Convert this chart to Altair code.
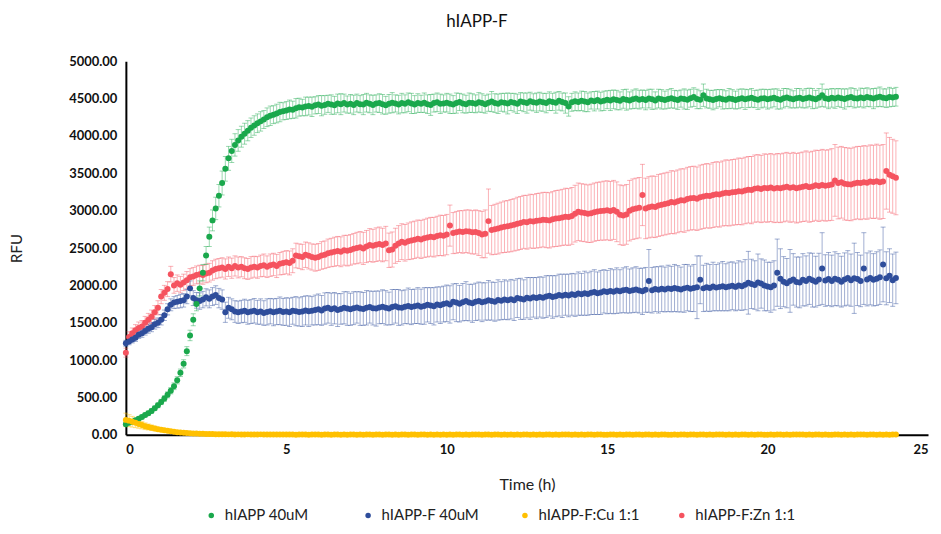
import altair as alt
import pandas as pd

# ---------------- data ----------------
SERIES = ["hIAPP 40uM", "hIAPP-F 40uM", "hIAPP-F:Cu 1:1", "hIAPP-F:Zn 1:1"]
COLORS = ["#1aa84c", "#2e4d9b", "#ffc000", "#f5535f"]
TIME_STEP_H = 0.1
X_TICKS = [0, 5, 10, 15, 20, 25]
Y_TICKS = [0, 500, 1000, 1500, 2000, 2500, 3000, 3500, 4000, 4500, 5000]

green = [
    140, 160, 175, 195, 215, 240, 265, 290, 320, 355,
    395, 440, 485, 535, 590, 650, 730, 830, 950, 1120,
    1330, 1540, 1750, 1960, 2170, 2400, 2650, 2870, 3030, 3200,
    3370, 3560, 3700, 3800, 3880, 3940, 3990, 4030, 4070, 4110,
    4140, 4170, 4195, 4220, 4250, 4270, 4285, 4300, 4320, 4330,
    4340, 4355, 4350, 4370, 4385, 4380, 4395, 4400, 4390, 4410,
    4420, 4405, 4415, 4430, 4420, 4410, 4435, 4425, 4440, 4420,
    4430, 4415, 4440, 4425, 4420, 4445, 4430, 4415, 4435, 4440,
    4425, 4410, 4430, 4445, 4435, 4420, 4440, 4430, 4450, 4435,
    4420, 4440, 4430, 4445, 4425, 4415, 4440, 4450, 4430, 4435,
    4445, 4430, 4420, 4440, 4455, 4435, 4425, 4445, 4440, 4430,
    4450, 4440, 4425, 4445, 4460, 4440, 4430, 4450, 4445, 4435,
    4455, 4445, 4430, 4460, 4450, 4440, 4465, 4450, 4445, 4460,
    4450, 4440, 4465, 4455, 4445, 4470, 4455, 4440, 4395, 4450,
    4465, 4455, 4470, 4460, 4450, 4475, 4465, 4480, 4460, 4470,
    4485, 4475, 4490, 4480, 4470, 4495, 4485, 4475, 4490, 4500,
    4485, 4495, 4480, 4500, 4490, 4475, 4500, 4490, 4480, 4495,
    4505, 4490, 4480, 4500, 4495, 4485, 4505, 4520, 4495, 4485,
    4545, 4500, 4490, 4480, 4495, 4505, 4490, 4485, 4500, 4495,
    4480, 4495, 4505, 4490, 4500, 4510, 4495, 4485, 4500, 4505,
    4490, 4500, 4510, 4495, 4485, 4505, 4515, 4500, 4490, 4505,
    4510, 4495, 4505, 4515, 4500, 4490, 4510, 4545, 4505, 4495,
    4510, 4500, 4515, 4505, 4495, 4510, 4520, 4505, 4500, 4515,
    4505, 4520, 4510, 4500, 4515, 4525, 4510, 4505, 4520, 4515,
    4525,
]
green_err = [
    20, 20, 22, 22, 25, 25, 25, 28, 30, 30,
    32, 35, 38, 40, 42, 45, 48, 50, 55, 60,
    70, 80, 90, 100, 110, 120, 130, 140, 150, 150,
    160, 165, 160, 155, 150, 145, 140, 140, 135, 130,
    130, 125, 130, 120, 125, 130, 120, 125, 130, 115,
    120, 125, 115, 130, 120, 110, 125, 120, 130, 115,
    120, 135, 125, 115, 130, 120, 125, 140, 120, 115,
    125, 130, 120, 115, 135, 125, 120, 130, 115, 125,
    130, 120, 125, 135, 115, 125, 130, 120, 125, 135,
    120, 125, 115, 130, 125, 140, 120, 125, 130, 115,
    125, 130, 120, 135, 115, 125, 120, 130, 125, 120,
    130, 125, 120, 115, 135, 125, 130, 120, 125, 140,
    115, 125, 130, 120, 125, 135, 120, 115, 130, 125,
    120, 130, 125, 115, 140, 125, 120, 135, 130, 120,
    125, 120, 130, 135, 125, 115, 130, 120, 125, 130,
    120, 135, 125, 130, 120, 125, 140, 115, 125, 130,
    125, 120, 130, 125, 135, 115, 125, 130, 120, 125,
    130, 120, 125, 115, 135, 130, 120, 125, 130, 120,
    150, 125, 120, 130, 125, 115, 130, 120, 135, 125,
    120, 130, 125, 135, 120, 125, 115, 130, 125, 120,
    130, 125, 120, 135, 125, 130, 120, 125, 115, 130,
    125, 120, 130, 125, 135, 120, 125, 150, 120, 130,
    125, 130, 120, 125, 135, 120, 125, 130, 115, 125,
    130, 125, 120, 135, 125, 130, 120, 125, 130, 120,
    125,
]
blue = [
    1225, 1250, 1275, 1300, 1340, 1360, 1390, 1420, 1440, 1480,
    1500, 1540, 1600, 1680, 1740, 1770, 1780, 1790, 1800, 1850,
    1960, 1830, 1800, 1790, 1810, 1840, 1820, 1850, 1870, 1830,
    1810, 1640, 1700, 1680, 1650, 1640, 1650, 1660, 1640, 1650,
    1660, 1640, 1650, 1630, 1645, 1655, 1640, 1650, 1660, 1645,
    1650, 1640, 1660, 1655, 1645, 1650, 1665, 1655, 1660, 1670,
    1680, 1665, 1690, 1700, 1680, 1695, 1670, 1685, 1700, 1690,
    1680, 1695, 1705, 1690, 1685, 1700, 1710, 1695, 1690, 1705,
    1715, 1700, 1690, 1710, 1720, 1705, 1700, 1715, 1725, 1710,
    1720, 1730, 1715, 1725, 1740, 1730, 1720, 1745, 1735, 1750,
    1760, 1745, 1780, 1770, 1755, 1775, 1790, 1770, 1760, 1780,
    1790, 1775, 1785, 1800, 1790, 1780, 1805, 1795, 1810, 1800,
    1815, 1800, 1830, 1820, 1810, 1835, 1825, 1840, 1830, 1845,
    1835, 1850, 1860, 1845, 1855, 1870, 1860, 1875, 1865, 1880,
    1870, 1890, 1880, 1895, 1885, 1900, 1910, 1895, 1905, 1920,
    1910, 1925, 1915, 1930, 1920, 1935, 1940, 1925, 1935, 1945,
    1930, 1920, 1940, 2060, 1935, 1950, 1940, 1955, 1945, 1960,
    1950, 1965, 1955, 1945, 1960, 1970, 1955, 1965, 1975, 2075,
    1960, 1975, 1965, 1985, 1970, 1980, 1990, 1975, 1985, 1995,
    1980, 2000, 1990, 2010, 2035, 2020, 2005, 2040, 2025, 2000,
    1985, 1975, 2000, 2170, 2090, 2050, 2030, 2060, 2080, 2045,
    2040, 2075, 2060, 2090, 2070, 2050, 2080, 2225, 2065, 2085,
    2060, 2090, 2075, 2050, 2080, 2100, 2070, 2095, 2085, 2060,
    2225, 2080, 2100, 2075, 2090, 2110, 2280, 2095, 2130, 2070,
    2100,
]
blue_err = [
    40, 45, 45, 50, 50, 55, 55, 60, 60, 65,
    65, 70, 70, 75, 80, 80, 85, 90, 90, 95,
    100, 100, 105, 110, 110, 115, 120, 120, 125, 130,
    130, 135, 140, 140, 145, 150, 150, 155, 160, 160,
    165, 160, 170, 165, 175, 170, 180, 175, 185, 180,
    185, 190, 180, 195, 190, 200, 195, 205, 190, 200,
    205, 200, 210, 205, 215, 210, 220, 205, 215, 225,
    215, 220, 210, 225, 220, 230, 215, 225, 235, 220,
    225, 230, 220, 235, 225, 240, 230, 225, 240, 235,
    230, 240, 235, 245, 230, 240, 250, 235, 245, 240,
    245, 250, 240, 255, 245, 250, 260, 245, 255, 250,
    255, 260, 250, 265, 255, 260, 270, 255, 265, 260,
    265, 270, 260, 275, 265, 270, 280, 265, 275, 270,
    275, 280, 270, 285, 275, 280, 290, 275, 285, 280,
    285, 290, 280, 295, 285, 290, 300, 285, 295, 290,
    290, 300, 295, 305, 290, 300, 310, 295, 300, 305,
    300, 310, 300, 420, 305, 300, 310, 305, 300, 310,
    305, 315, 310, 300, 320, 310, 305, 315, 420, 320,
    310, 320, 315, 325, 310, 320, 330, 315, 325, 320,
    320, 330, 325, 335, 420, 330, 325, 380, 330, 340,
    325, 335, 330, 450, 400, 335, 330, 420, 345, 335,
    340, 350, 335, 345, 360, 340, 350, 480, 345, 355,
    345, 360, 350, 340, 355, 365, 350, 470, 355, 345,
    480, 355, 360, 350, 360, 365, 500, 355, 360, 350,
    345,
]
yellow = [
    200, 190, 175, 160, 145, 130, 115, 105, 95, 85,
    75, 67, 60, 53, 47, 41, 36, 32, 28, 25,
    22, 19, 17, 15, 13, 12, 11, 10, 9, 8,
    8, 7, 6, 7, 5, 6, 5, 4, 6, 5,
    5, 4, 6, 3, 5, 4, 3, 5, 4, 3,
    4, 3, 5, 2, 4, 3, 4, 2, 3, 4,
    3, 2, 4, 3, 2, 3, 4, 2, 3, 2,
    3, 4, 2, 3, 2, 4, 3, 2, 3, 4,
    2, 3, 4, 2, 3, 2, 3, 4, 2, 3,
    3, 2, 3, 4, 2, 3, 2, 3, 2, 4,
    2, 3, 2, 4, 3, 2, 3, 2, 4, 3,
    3, 2, 4, 3, 2, 3, 4, 2, 3, 2,
    4, 2, 3, 2, 3, 4, 2, 3, 2, 3,
    2, 3, 4, 2, 3, 2, 3, 4, 3, 2,
    3, 2, 3, 2, 4, 3, 2, 3, 4, 2,
    2, 4, 3, 2, 3, 2, 4, 3, 2, 3,
    3, 2, 4, 3, 2, 3, 2, 3, 4, 2,
    2, 3, 2, 4, 3, 2, 3, 4, 2, 3,
    4, 2, 3, 2, 3, 4, 3, 2, 3, 2,
    3, 2, 4, 3, 2, 3, 2, 4, 3, 2,
    2, 3, 2, 3, 4, 2, 3, 2, 3, 4,
    3, 4, 2, 3, 2, 3, 4, 2, 3, 2,
    2, 3, 4, 2, 3, 2, 3, 2, 4, 3,
    3, 2, 3, 4, 2, 3, 2, 3, 2, 4,
    3,
]
yellow_err = [
    90, 80, 72, 64, 57, 50, 45, 40, 36, 32,
    28, 25, 22, 20, 18, 16, 14, 13, 12, 11,
    10, 9, 9, 8, 8, 7, 7, 7, 6, 6,
    6, 5, 6, 5, 5, 6, 5, 5, 6, 5,
    5, 6, 5, 5, 6, 5, 5, 6, 5, 5,
    6, 5, 5, 6, 5, 5, 6, 5, 5, 6,
    5, 5, 6, 5, 5, 6, 5, 5, 6, 5,
    5, 6, 5, 5, 6, 5, 5, 6, 5, 5,
    6, 5, 5, 6, 5, 5, 6, 5, 5, 6,
    5, 5, 6, 5, 5, 6, 5, 5, 6, 5,
    5, 6, 5, 5, 6, 5, 5, 6, 5, 5,
    6, 5, 5, 6, 5, 5, 6, 5, 5, 6,
    5, 5, 6, 5, 5, 6, 5, 5, 6, 5,
    5, 6, 5, 5, 6, 5, 5, 6, 5, 5,
    6, 5, 5, 6, 5, 5, 6, 5, 5, 6,
    5, 5, 6, 5, 5, 6, 5, 5, 6, 5,
    5, 6, 5, 5, 6, 5, 5, 6, 5, 5,
    6, 5, 5, 6, 5, 5, 6, 5, 5, 6,
    5, 5, 6, 5, 5, 6, 5, 5, 6, 5,
    5, 6, 5, 5, 6, 5, 5, 6, 5, 5,
    6, 5, 5, 6, 5, 5, 6, 5, 5, 6,
    5, 5, 6, 5, 5, 6, 5, 5, 6, 5,
    5, 6, 5, 5, 6, 5, 5, 6, 5, 5,
    6, 5, 5, 6, 5, 5, 6, 5, 5, 6,
    5,
]
red = [
    1100, 1310, 1360, 1400, 1430, 1450, 1500, 1540, 1580, 1640,
    1700, 1850, 1900, 1950, 2150, 2000, 2030, 2010, 2040, 2070,
    2110, 2120, 2140, 2150, 2140, 2160, 2170, 2200, 2220, 2230,
    2240, 2220, 2250, 2230, 2260, 2240, 2250, 2230, 2220, 2240,
    2250, 2240, 2260, 2270, 2250, 2270, 2280, 2260, 2290, 2300,
    2310, 2300, 2330, 2400, 2390, 2380, 2410, 2395, 2380, 2370,
    2380, 2400, 2410, 2430, 2440, 2450, 2460, 2450, 2470, 2465,
    2475, 2490, 2500, 2510, 2495, 2520, 2540, 2530, 2545, 2555,
    2540, 2560, 2470, 2480, 2530, 2560, 2585, 2570, 2590, 2600,
    2610, 2625, 2615, 2630, 2640, 2650, 2645, 2660, 2670, 2665,
    2680, 2800, 2700, 2710, 2720, 2715, 2725, 2720, 2710, 2715,
    2700, 2680, 2690, 2860, 2740, 2750, 2760, 2775, 2785, 2790,
    2800, 2810, 2825, 2835, 2850, 2845, 2860, 2855, 2865, 2870,
    2880, 2875, 2870, 2885, 2895, 2900, 2910, 2920, 2915, 2930,
    2960, 2985, 2975, 2970, 2960, 2965, 2980, 2990, 2995, 3000,
    3005, 2995, 3010, 2985, 2945, 2935, 2950, 3000, 3020, 3030,
    3040, 3210, 3030, 3045, 3055, 3050, 3070, 3080, 3090, 3100,
    3115, 3110, 3125, 3140, 3135, 3155, 3165, 3170, 3160, 3180,
    3190, 3200, 3195, 3210, 3220, 3215, 3230, 3240, 3235, 3245,
    3250, 3260, 3255, 3270, 3280, 3275, 3295, 3300, 3290, 3305,
    3300, 3310, 3295, 3305, 3300, 3310, 3320, 3305, 3315, 3300,
    3310, 3320, 3330, 3315, 3325, 3340, 3330, 3345, 3335, 3340,
    3350, 3405, 3370, 3380, 3360, 3355, 3350, 3365, 3375, 3370,
    3380, 3375, 3390, 3385, 3395, 3380, 3390, 3530, 3480, 3460,
    3440,
]
red_err = [
    60, 70, 70, 75, 80, 80, 85, 85, 90, 90,
    95, 95, 100, 100, 105, 105, 110, 110, 110, 115,
    115, 120, 120, 120, 125, 125, 125, 130, 130, 130,
    130, 135, 130, 135, 135, 140, 135, 140, 140, 145,
    140, 145, 145, 150, 145, 150, 150, 155, 150, 155,
    155, 160, 160, 165, 165, 170, 170, 175, 175, 180,
    180, 185, 185, 190, 190, 195, 195, 200, 200, 205,
    205, 205, 210, 210, 215, 215, 220, 220, 225, 225,
    225, 230, 230, 235, 235, 240, 240, 245, 245, 250,
    250, 250, 255, 255, 260, 260, 265, 265, 270, 270,
    270, 275, 275, 280, 280, 285, 285, 290, 290, 295,
    300, 310, 320, 430, 330, 335, 340, 340, 345, 345,
    350, 350, 355, 355, 355, 360, 360, 360, 365, 365,
    365, 370, 370, 370, 375, 375, 375, 380, 380, 380,
    380, 385, 385, 385, 385, 390, 390, 390, 390, 395,
    395, 395, 395, 400, 400, 400, 400, 405, 405, 405,
    405, 410, 405, 410, 410, 410, 415, 415, 415, 415,
    420, 420, 420, 420, 425, 425, 425, 425, 425, 430,
    430, 430, 430, 435, 435, 435, 435, 440, 440, 440,
    440, 445, 445, 445, 445, 450, 450, 450, 450, 455,
    455, 455, 455, 460, 460, 460, 460, 460, 465, 465,
    465, 465, 470, 470, 470, 470, 475, 475, 475, 475,
    480, 480, 480, 480, 485, 485, 485, 485, 485, 490,
    490, 490, 490, 490, 495, 495, 495, 510, 500, 495,
    495,
]

# ---------------- tables ----------------
values = {SERIES[0]: (green, green_err), SERIES[1]: (blue, blue_err),
          SERIES[2]: (yellow, yellow_err), SERIES[3]: (red, red_err)}
draw_order = [SERIES[3], SERIES[1], SERIES[0], SERIES[2]]

rows, caps = [], []
for s in draw_order:
    v, e = values[s]
    for i, (val, err) in enumerate(zip(v, e)):
        t = round(i * TIME_STEP_H, 2)
        rows.append({"t": t, "rfu": val, "lo": val - err, "hi": val + err,
                     "series": s, "series_e": s})
        caps.append({"t": t, "cap": val - err, "series_e": s})
        caps.append({"t": t, "cap": val + err, "series_e": s})
df = pd.DataFrame(rows)
df_caps = pd.DataFrame(caps)

FONT = "Lato"
xscale = alt.Scale(domain=[0, 25], nice=False)
yscale = alt.Scale(domain=[0, 5000], nice=False)
ecolor = alt.Scale(domain=SERIES, range=COLORS)

x_axis = alt.Axis(values=X_TICKS, title="Time (h)", format="d", grid=False,
                  ticks=False, domainColor="#000000", domainWidth=2,
                  labelOverlap=False,
                  labelFont=FONT, labelFontWeight="bold", labelFontSize=13,
                  labelColor="#111111", labelPadding=9, titleFont=FONT,
                  titleFontWeight="normal", titleFontSize=16,
                  titleColor="#222222", titlePadding=20)
y_axis = alt.Axis(values=Y_TICKS, tickCount=11, title="RFU", format=".2f",
                  grid=False, ticks=False, domainColor="#000000",
                  domainWidth=2, labelOverlap=False,
                  labelFont=FONT, labelFontWeight="bold", labelFontSize=13,
                  labelColor="#111111", labelPadding=9, titleFont=FONT,
                  titleFontWeight="normal", titleFontSize=15,
                  titleColor="#222222", titlePadding=44)

err_rules = alt.Chart(df).mark_rule(strokeWidth=1, opacity=0.45).encode(
    x=alt.X("t:Q", scale=xscale, axis=x_axis),
    y=alt.Y("lo:Q", scale=yscale, axis=y_axis),
    y2="hi:Q",
    color=alt.Color("series_e:N", scale=ecolor, legend=None),
)
err_caps = alt.Chart(df_caps).mark_tick(orient="horizontal", size=5,
                                        thickness=1, opacity=0.45).encode(
    x=alt.X("t:Q", scale=xscale, axis=x_axis),
    y=alt.Y("cap:Q", scale=yscale, axis=y_axis),
    color=alt.Color("series_e:N", scale=ecolor, legend=None),
)
points = alt.Chart(df).mark_circle(size=36, opacity=1).encode(
    x=alt.X("t:Q", scale=xscale, axis=x_axis),
    y=alt.Y("rfu:Q", scale=yscale, axis=y_axis),
    color=alt.Color(
        "series:N",
        scale=alt.Scale(domain=SERIES, range=COLORS),
        legend=alt.Legend(title=None, orient="none", direction="horizontal",
                          legendX=78, legendY=447, columns=4,
                          gridAlign="all",
                          symbolType="circle", symbolSize=30,
                          labelFont=FONT, labelFontSize=15,
                          labelColor="#222222", columnPadding=34,
                          labelOffset=6),
    ),
)

chart = alt.layer(err_rules, err_caps, points).resolve_scale(
    color="independent"
).properties(
    width=803, height=374,
    autosize=alt.AutoSizeParams(type="none"),
    padding={"left": 118, "top": 53, "right": 5, "bottom": 97},
    title=alt.TitleParams("hIAPP-F", font=FONT, fontSize=17,
                          fontWeight="normal", color="#111111", offset=24,
                          dx=-50),
).configure_view(stroke=None).configure_axis(labelOverlap=False)

chart.save("out.html", embed_options={"renderer": "svg", "actions": False})
